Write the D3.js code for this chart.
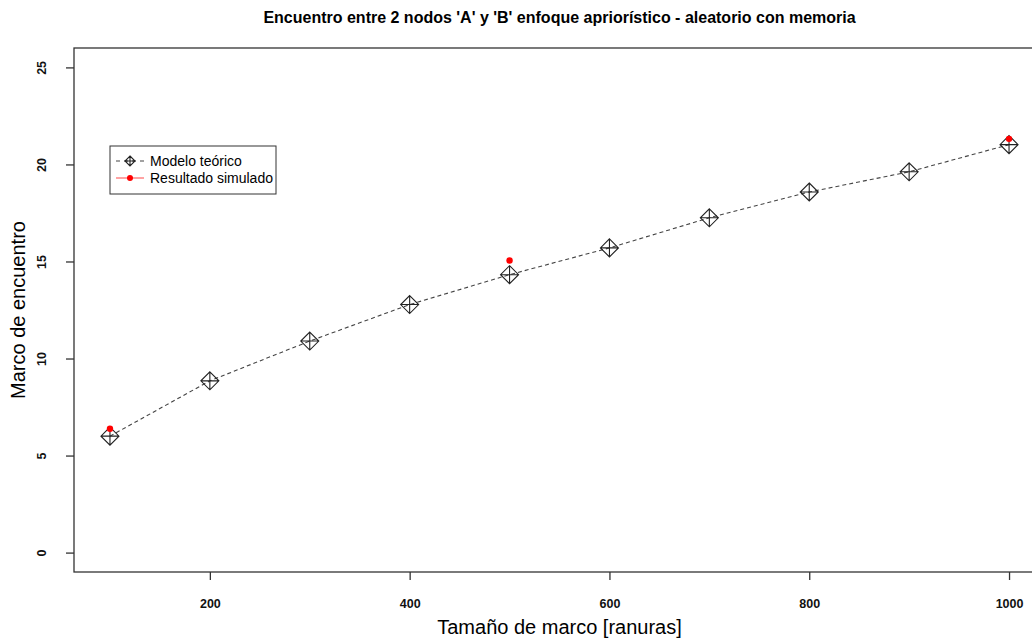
<!DOCTYPE html>
<html>
<head>
<meta charset="utf-8">
<script src="https://cdn.jsdelivr.net/npm/d3@7"></script>
<style>
  body { margin: 0; background: #fff; }
  text { font-family: "Liberation Sans", Arial, sans-serif; }
</style>
</head>
<body>
<div id="chart"></div>
<script>
// frame sizes (ranuras)
const frameSizes = [100, 200, 300, 400, 500, 600, 700, 800, 900, 1000];
// theoretical meeting frame
const modelValues = [6.0, 8.85, 10.9, 12.78, 14.32, 15.7, 17.25, 18.58, 19.62, 21.02];
// simulated results (only three sizes)
const simSizes = [100, 500, 1000];
const simValues = [6.38, 15.05, 21.32];

const xTicks = [200, 400, 600, 800, 1000];
const yTicks = [0, 5, 10, 15, 20, 25];

const W = 1032, H = 639;
const margin = { top: 48, right: -13, bottom: 67, left: 74 };
const width = W - margin.left - margin.right;
const height = H - margin.top - margin.bottom;

const svg = d3.select("#chart").append("svg")
    .attr("width", W)
    .attr("height", H);

const g = svg.append("g")
    .attr("transform", `translate(${margin.left}, ${margin.top})`);

// R style 4% padding
const x = d3.scaleLinear().domain([64, 1036]).range([0, width]);
const y = d3.scaleLinear().domain([-1, 26]).range([height, 0]);

// box
g.append("rect")
    .attr("width", width).attr("height", height)
    .attr("fill", "none").attr("stroke", "#333").attr("stroke-width", 1.3);

// x axis
const xAxis = g.append("g")
    .attr("transform", `translate(0, ${height})`)
    .call(d3.axisBottom(x).tickValues(xTicks).tickFormat(d3.format("d"))
        .tickSize(8).tickPadding(19).tickSizeOuter(0));
xAxis.select(".domain").remove();
xAxis.selectAll("line").attr("stroke", "#333").attr("stroke-width", 1.3);
xAxis.selectAll("text").attr("font-size", 12.5).attr("font-weight", "bold")
    .attr("fill", "#111").attr("font-family", "Liberation Sans, Arial, sans-serif");

// y axis
const yAxis = g.append("g")
    .call(d3.axisLeft(y).tickValues(yTicks).tickSize(8));
yAxis.select(".domain").remove();
yAxis.selectAll("line").attr("stroke", "#333").attr("stroke-width", 1.3);
yAxis.selectAll("text")
    .attr("x", null).attr("dy", null)
    .attr("text-anchor", "middle")
    .attr("transform", "translate(-28, 0) rotate(-90)")
    .attr("font-size", 12.5).attr("font-weight", "bold")
    .attr("fill", "#111").attr("font-family", "Liberation Sans, Arial, sans-serif");

// model line
const line = d3.line()
    .x((d, i) => x(frameSizes[i]))
    .y(d => y(d));

g.append("path")
    .datum(modelValues)
    .attr("d", line)
    .attr("fill", "none")
    .attr("stroke", "#444")
    .attr("stroke-width", 1.1)
    .attr("stroke-dasharray", "4,3");

function diamondPlus(sel, r) {
    sel.append("path")
        .attr("d", `M0,${-r}L${r},0L0,${r}L${-r},0Z M0,${-r}L0,${r} M${-r},0L${r},0`)
        .attr("fill", "none")
        .attr("stroke", "#222")
        .attr("stroke-width", 1.1);
}

const pts = g.selectAll(".pt")
    .data(modelValues)
    .join("g")
    .attr("class", "pt")
    .attr("transform", (d, i) => `translate(${x(frameSizes[i])}, ${y(d)})`);
pts.call(diamondPlus, 9);

// simulated points
g.selectAll(".sim")
    .data(simValues)
    .join("circle")
    .attr("class", "sim")
    .attr("cx", (d, i) => x(simSizes[i]))
    .attr("cy", d => y(d))
    .attr("r", 3.2)
    .attr("fill", "#ff0000");

// title
svg.append("text")
    .attr("x", margin.left + width / 2)
    .attr("y", 23)
    .attr("text-anchor", "middle")
    .attr("font-size", 16)
    .attr("font-weight", "bold")
    .text("Encuentro entre 2 nodos 'A' y 'B' enfoque apriorístico - aleatorio con memoria");

// axis titles
svg.append("text")
    .attr("x", margin.left + width / 2)
    .attr("y", 634)
    .attr("text-anchor", "middle")
    .attr("font-size", 20)
    .text("Tamaño de marco [ranuras]");

svg.append("text")
    .attr("transform", `translate(25, ${margin.top + height / 2}) rotate(-90)`)
    .attr("text-anchor", "middle")
    .attr("font-size", 20)
    .text("Marco de encuentro");

// legend
const legend = svg.append("g").attr("transform", "translate(110, 146)");
legend.append("rect")
    .attr("width", 166).attr("height", 48)
    .attr("fill", "#fff").attr("stroke", "#333").attr("stroke-width", 1);

legend.append("line")
    .attr("x1", 6).attr("x2", 34).attr("y1", 15).attr("y2", 15)
    .attr("stroke", "#444").attr("stroke-dasharray", "4,4").attr("stroke-width", 1.1);
legend.append("g").attr("transform", "translate(20, 15)")
    .call(diamondPlus, 5);
legend.append("text").attr("x", 40).attr("y", 20)
    .attr("font-size", 14).text("Modelo teórico");

legend.append("line")
    .attr("x1", 6).attr("x2", 34).attr("y1", 32).attr("y2", 32)
    .attr("stroke", "#ff6666").attr("stroke-width", 1.2);
legend.append("circle").attr("cx", 20).attr("cy", 32).attr("r", 3)
    .attr("fill", "#ff0000");
legend.append("text").attr("x", 40).attr("y", 37)
    .attr("font-size", 14).text("Resultado simulado");
</script>
</body>
</html>
